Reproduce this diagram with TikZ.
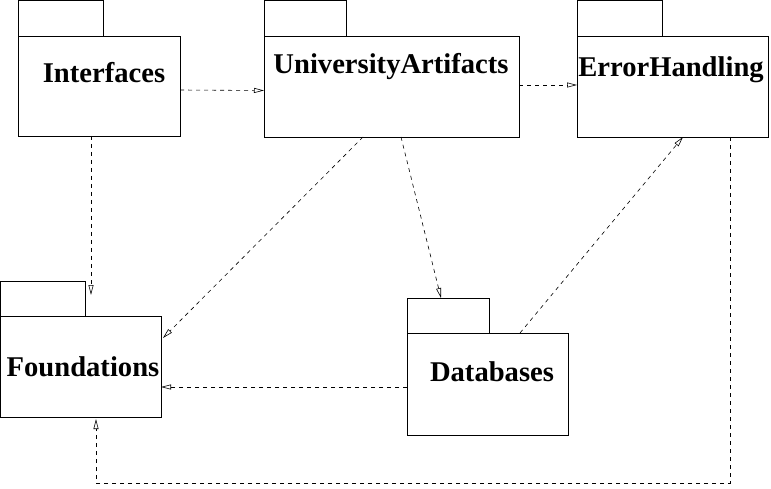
\documentclass[tikz,border=0pt]{standalone}
\usepackage{fontspec}
\setmainfont{Liberation Serif}
\usetikzlibrary{arrows.meta,calc}
\begin{document}
\begin{tikzpicture}[x=1pt,y=-1pt,
  box/.style={draw,line width=0.9pt,inner sep=0pt,outer sep=0pt,anchor=north west},
  lbl/.style={anchor=base,inner sep=0pt,font=\fontsize{28.6}{30}\selectfont\bfseries},
  dep/.style={draw,line width=0.6pt,dash pattern=on 4pt off 4pt,
    -{Triangle[open,length=10pt,width=5pt,line width=0.6pt]}}]
\useasboundingbox (0,0) rectangle (771,489);
% Interfaces
\node[box,minimum width=85pt,minimum height=35.5pt] (Itab) at (18,0.5) {};
\node[box,minimum width=162pt,minimum height=100pt] (I) at (18,36) {};
\node[lbl] (It) at (104,83) {Interfaces};
% UniversityArtifacts
\node[box,minimum width=82pt,minimum height=35.5pt] (Utab) at (264,0.5) {};
\node[box,minimum width=255pt,minimum height=101pt] (U) at (264,36) {};
\node[lbl] (Ut) at (391,74) {UniversityArtifacts};
% ErrorHandling
\node[box,minimum width=85pt,minimum height=35.5pt] (Etab) at (577,0.5) {};
\node[box,minimum width=191pt,minimum height=101pt] (E) at (577,36) {};
\node[lbl] (Et) at (671,77) {ErrorHandling};
% Foundations
\node[box,minimum width=84.5pt,minimum height=35pt] (Ftab) at (0.5,281) {};
\node[box,minimum width=160.5pt,minimum height=101pt] (F) at (0.5,316) {};
\node[lbl] (Ft) at (83,376) {Foundations};
% Databases
\node[box,minimum width=82pt,minimum height=35pt] (Dtab) at (407,298) {};
\node[box,minimum width=161pt,minimum height=102pt] (D) at (407,333) {};
\node[lbl] (Dt) at (492,381) {Databases};
% helper coordinates
\coordinate (fTop) at (91,295);
\coordinate (bot) at (0,483);
% connectors
\draw[dep] ([yshift=-4pt]I.east) -- ([yshift=-4pt]U.west);
\draw[dep] ([yshift=1.5pt]U.east) -- ([yshift=1.5pt]E.west);
\draw[dep] ([xshift=-8pt]I.south) -- (fTop);
\draw[dep] ([xshift=-28.5pt]U.south) -- ([xshift=2pt,yshift=28.5pt]F.east);
\draw[dep] ([xshift=9.5pt]U.south) -- ([xshift=-7pt]Dtab.north);
\draw[dep] ([xshift=32.5pt]D.north) -- ([xshift=10.5pt]E.south);
\draw[dep] ([yshift=-3pt]D.west) -- ([yshift=-20.5pt]F.east);
\coordinate (es) at ([xshift=57.5pt]E.south);
\coordinate (fs) at ([xshift=15.25pt,yshift=-2pt]F.south);
\draw[dep] (es) -- (es |- bot) -- (fs |- bot) -- (fs);
\end{tikzpicture}
\end{document}
